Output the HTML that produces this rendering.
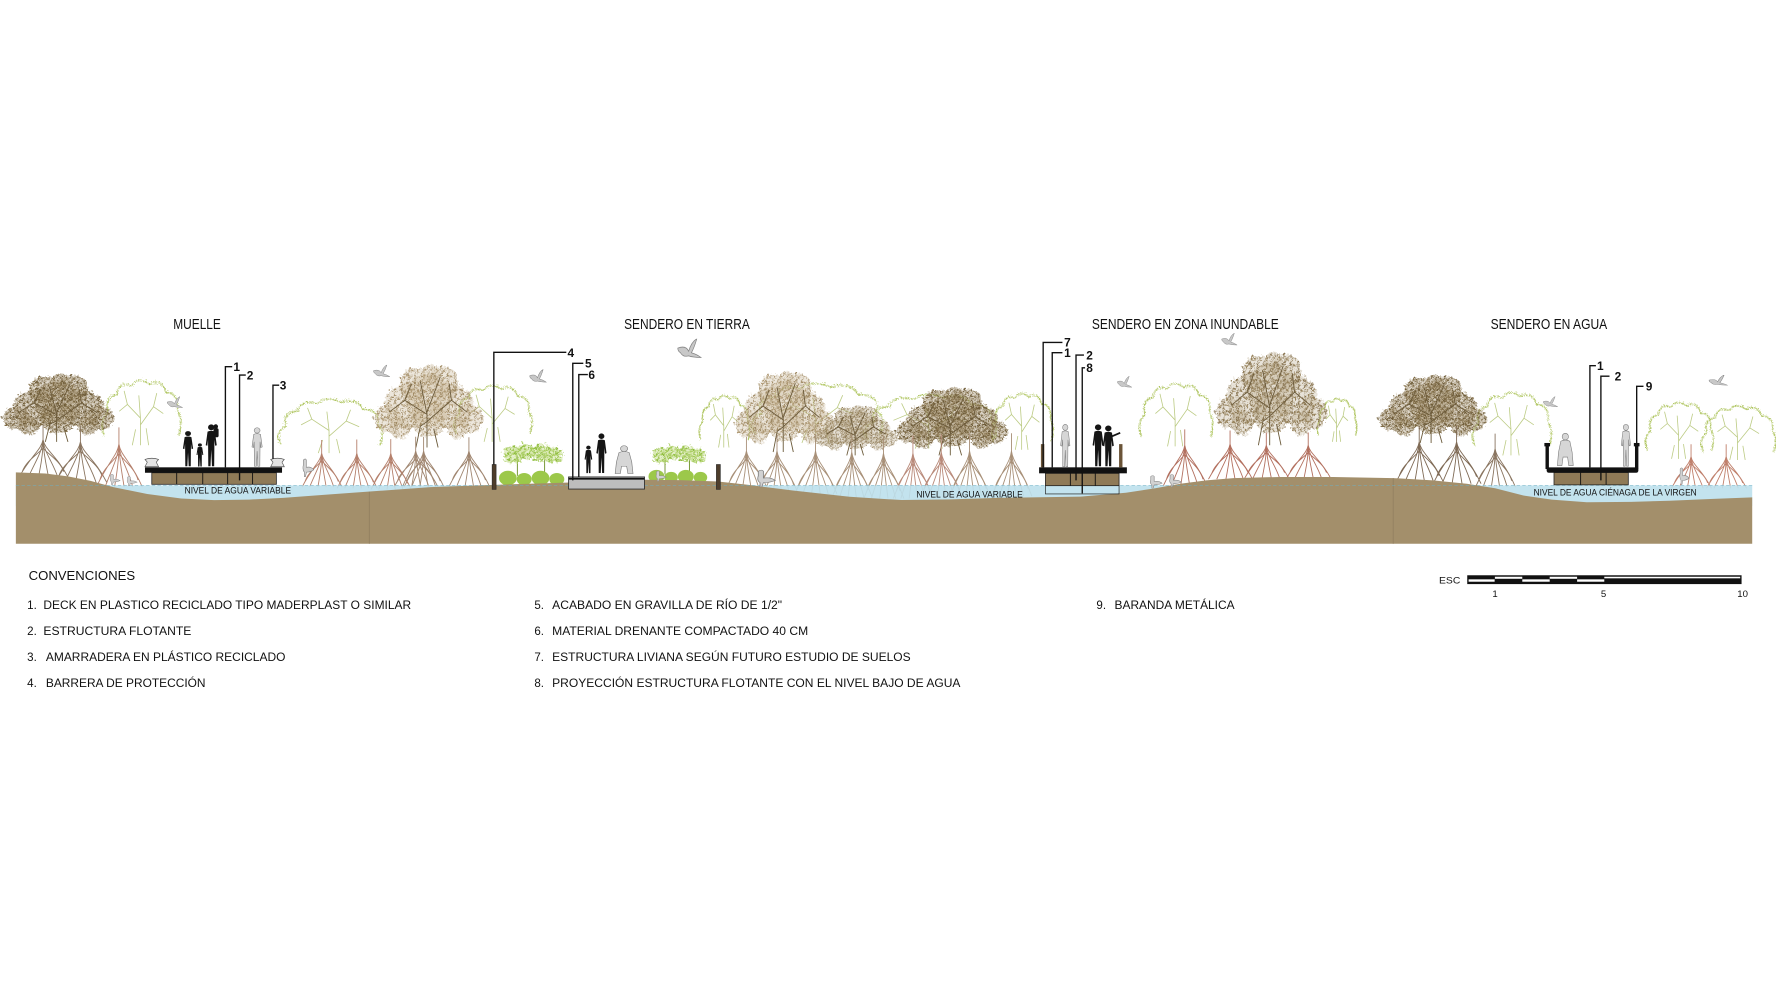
<!DOCTYPE html>
<html><head><meta charset="utf-8">
<style>
html,body{margin:0;padding:0;background:#fff;}
svg{display:block;}
text{font-family:"Liberation Sans",Arial,sans-serif;fill:#111;}
</style></head>
<body>
<svg width="1776" height="1006" viewBox="0 0 1568 888" xmlns="http://www.w3.org/2000/svg">
<defs>
<pattern id="pDark" patternUnits="userSpaceOnUse" width="6" height="6">
 <rect width="6" height="6" fill="#a08b66" opacity="0.35"/>
 <circle cx="1.2" cy="1.2" r="1.2" fill="#6e5b38"/>
 <circle cx="4.2" cy="2.8" r="1.3" fill="#7b6843"/>
 <circle cx="2" cy="4.8" r="1" fill="#85714b"/>
 <circle cx="5.2" cy="5.4" r="0.7" fill="#6e5b38"/>
</pattern>
<pattern id="pMid" patternUnits="userSpaceOnUse" width="6" height="6">
 <rect width="6" height="6" fill="#b3a282" opacity="0.3"/>
 <circle cx="1.2" cy="1.2" r="1.1" fill="#8a7652"/>
 <circle cx="4.2" cy="2.8" r="1.2" fill="#97835d"/>
 <circle cx="2" cy="4.8" r="0.9" fill="#8a7652"/>
</pattern>
<pattern id="pTan" patternUnits="userSpaceOnUse" width="6" height="6">
 <rect width="6" height="6" fill="#c8b898" opacity="0.35"/>
 <circle cx="1.2" cy="1.2" r="1.05" fill="#a08a64"/>
 <circle cx="4.2" cy="2.8" r="1.15" fill="#ad9772"/>
 <circle cx="2" cy="4.8" r="0.85" fill="#9c8660"/>
</pattern>
<pattern id="pGreen" patternUnits="userSpaceOnUse" width="5" height="5">
 <rect width="5" height="5" fill="#d4e6a6" opacity="0.6"/>
 <circle cx="1" cy="1" r="1.1" fill="#8fbd3e"/>
 <circle cx="3.6" cy="2.6" r="1.2" fill="#a6cc5a"/>
 <circle cx="1.8" cy="4.2" r="0.9" fill="#97c147"/>
</pattern>
<filter id="wig" x="-20%" y="-20%" width="140%" height="140%">
 <feTurbulence type="turbulence" baseFrequency="0.3" numOctaves="2" seed="7" result="n"/>
 <feDisplacementMap in="SourceGraphic" in2="n" scale="6" xChannelSelector="R" yChannelSelector="G"/>
</filter>
<filter id="wig2" x="-20%" y="-20%" width="140%" height="140%">
 <feTurbulence type="turbulence" baseFrequency="0.6" numOctaves="2" seed="3" result="n"/>
 <feDisplacementMap in="SourceGraphic" in2="n" scale="5" xChannelSelector="R" yChannelSelector="G"/>
</filter>

<symbol id="canB" viewBox="0 0 100 70" preserveAspectRatio="none" overflow="visible">
 <g filter="url(#wig)">
  <circle cx="50" cy="28" r="22"/><circle cx="29" cy="34" r="19"/><circle cx="71" cy="34" r="19"/>
  <circle cx="13" cy="44" r="12"/><circle cx="87" cy="44" r="12"/><circle cx="38" cy="15" r="14"/>
  <circle cx="63" cy="14" r="14"/><circle cx="52" cy="6" r="8"/><circle cx="50" cy="44" r="16"/>
  <circle cx="24" cy="52" r="9"/><circle cx="76" cy="52" r="9"/>
 </g>
 <path fill="none" stroke="#6b5a3a" stroke-width="0.9" vector-effect="non-scaling-stroke" d="M50,70 L50,42 L30,30 L16,40 M50,48 L72,30 L86,40 M50,42 L44,14 M50,40 L62,10 M30,30 L36,16 M72,30 L70,16 M40,70 L44,52 L50,48 M60,70 L56,54"/>
</symbol>

<symbol id="canG" viewBox="0 0 100 60" preserveAspectRatio="none" overflow="visible">
 <path filter="url(#wig2)" fill="none" stroke="#b0c662" stroke-width="1.2" vector-effect="non-scaling-stroke" d="M4,50 Q-2,36 9,30 Q4,16 20,14 Q22,2 38,6 Q48,-3 60,5 Q75,0 80,12 Q96,12 94,28 Q102,36 96,50"/>
 <path fill="none" stroke="#bccb84" stroke-width="0.8" vector-effect="non-scaling-stroke" d="M50,60 L50,36 L34,24 L24,30 M50,42 L66,26 L78,32 M50,36 L48,16 M34,24 L30,12 M66,26 L70,14 M40,60 L44,46 M60,60 L57,45"/>
</symbol>

<symbol id="rt" viewBox="0 0 60 36" preserveAspectRatio="none" overflow="visible">
 <path fill="none" vector-effect="non-scaling-stroke" stroke-width="0.9" d="M30,0 C28,10 18,14 4,36 M30,0 C29,12 22,20 14,36 M30,2 C30,16 27,26 25,36 M30,2 C31,16 34,26 36,36 M30,0 C31,12 40,20 46,36 M30,0 C32,10 44,14 57,36 M30,8 C24,14 12,20 8,30 M30,8 C36,14 48,20 52,30 M30,-14 L30,4"/>
</symbol>

<symbol id="shr" viewBox="0 0 50 40" preserveAspectRatio="none" overflow="visible">
 <path d="M14,32 L14,14 M34,32 L34,14" stroke="#7a9a3a" stroke-width="1" vector-effect="non-scaling-stroke"/>
 <g fill="url(#pGreen)" filter="url(#wig)">
  <circle cx="10" cy="12" r="8"/><circle cx="18" cy="9" r="7"/><circle cx="30" cy="10" r="8"/><circle cx="39" cy="12" r="7"/>
 </g>
 <g fill="#9cc84a">
  <circle cx="7" cy="34" r="6.5"/><circle cx="19" cy="35" r="5.5"/><circle cx="31" cy="34" r="6.5"/><circle cx="43" cy="35" r="5.5"/>
 </g>
</symbol>

<symbol id="pa" viewBox="0 0 12 38" preserveAspectRatio="none">
 <circle cx="6" cy="3.2" r="2.6"/>
 <path d="M3,7 Q6,5.5 9,7 L10.5,19 L9.2,19.5 L8.6,14 L8.4,37.5 L6.6,37.5 L6,23 L5.4,37.5 L3.6,37.5 L3.4,14 L2.8,19.5 L1.5,19 Z"/>
</symbol>
<symbol id="pc" viewBox="0 0 16 28" preserveAspectRatio="none">
 <circle cx="8" cy="3.2" r="2.8"/>
 <path d="M4,7 Q8,5 12,7 L14,16 L15,27 L11,27 L10,20 L6,20 L5,27 L1,27 L2,16 Z"/>
</symbol>
<symbol id="bird" viewBox="0 0 20 16" preserveAspectRatio="none">
 <path d="M2,6 Q8,4 10,8 Q12,2 16,0 Q14,6 12,9 Q16,10 19,12 Q13,12 10,11 Q6,12 4,9 Q2,8 2,6 Z"/>
</symbol>
<symbol id="sbird" viewBox="0 0 14 16" preserveAspectRatio="none">
 <path d="M3,2 Q5,0 6,2 L6,8 Q10,7 13,10 Q10,12 6,12 L5,16 L4,16 L4,12 Q2,10 3,6 Z"/>
</symbol>
</defs>

<!-- TITLES -->
<text x="153" y="290.5" font-size="13" textLength="42" lengthAdjust="spacingAndGlyphs">MUELLE</text>
<text x="551" y="290.5" font-size="13" textLength="111" lengthAdjust="spacingAndGlyphs">SENDERO EN TIERRA</text>
<text x="964" y="290.5" font-size="13" textLength="165" lengthAdjust="spacingAndGlyphs">SENDERO EN ZONA INUNDABLE</text>
<text x="1316" y="290.5" font-size="13" textLength="103" lengthAdjust="spacingAndGlyphs">SENDERO EN AGUA</text>

<!-- GREEN OUTLINE TREES (back) -->
<g stroke="#b0c662">
<use href="#canG" x="88" y="333" width="72" height="60"/>
<use href="#canG" x="243" y="350" width="95" height="50"/>
<use href="#canG" x="399" y="338" width="71" height="52"/>
<use href="#canG" x="616" y="347" width="46" height="48"/>
<use href="#canG" x="660" y="336" width="120" height="55"/>
<use href="#canG" x="760" y="346" width="120" height="50"/>
<use href="#canG" x="874" y="345" width="56" height="52"/>
<use href="#canG" x="1004" y="336" width="67" height="58"/>
<use href="#canG" x="1162" y="350" width="36" height="40"/>
<use href="#canG" x="1298" y="344" width="72" height="58"/>
<use href="#canG" x="1451" y="353" width="62" height="52"/>
<use href="#canG" x="1500" y="356" width="68" height="50"/>
</g>

<!-- BROWN CANOPIES -->
<use href="#canB" x="0" y="330" width="100" height="60" fill="url(#pDark)"/>
<use href="#canB" x="328" y="322" width="98" height="73" fill="url(#pTan)"/>
<use href="#canB" x="647" y="328" width="89" height="71" fill="url(#pTan)"/>
<use href="#canB" x="718" y="358" width="74" height="44" fill="url(#pMid)"/>
<use href="#canB" x="789" y="342" width="100" height="60" fill="url(#pDark)"/>
<use href="#canB" x="1071" y="311" width="100" height="82" fill="url(#pMid)"/>
<use href="#canB" x="1215" y="331" width="97" height="60" fill="url(#pDark)"/>

<!-- ROOTS -->
<g stroke="#8a7560">
<use href="#rt" x="13" y="388" width="50" height="34"/>
<use href="#rt" x="45" y="390" width="52" height="36"/>
<use href="#rt" x="345" y="398" width="44" height="32" stroke="#a08670"/>
<use href="#rt" x="354" y="398" width="40" height="32" stroke="#a08670"/>
<use href="#rt" x="394" y="398" width="40" height="31" stroke="#a08670"/>
<use href="#rt" x="1229" y="390" width="48" height="36" stroke="#7f6a55"/>
<use href="#rt" x="1262" y="390" width="48" height="37" stroke="#7f6a55"/>
<use href="#rt" x="1300" y="396" width="40" height="34"/>
</g>
<g stroke="#b5806c">
<use href="#rt" x="82" y="392" width="46" height="38"/>
<use href="#rt" x="264" y="400" width="40" height="30"/>
<use href="#rt" x="295" y="400" width="40" height="31"/>
<use href="#rt" x="325" y="400" width="40" height="32"/>
</g>
<g stroke="#a89078">
<use href="#rt" x="639" y="398" width="40" height="32"/>
<use href="#rt" x="666" y="398" width="40" height="36"/>
<use href="#rt" x="699" y="398" width="42" height="38"/>
<use href="#rt" x="732" y="399" width="40" height="40"/>
<use href="#rt" x="760" y="400" width="40" height="40"/>
<use href="#rt" x="786" y="400" width="40" height="40" stroke="#b98a7a"/>
<use href="#rt" x="810" y="399" width="42" height="40" stroke="#b98a7a"/>
<use href="#rt" x="836" y="398" width="40" height="40"/>
<use href="#rt" x="873" y="398" width="40" height="40"/>
</g>
<g stroke="#b3705f">
<use href="#rt" x="1024" y="393" width="44" height="36"/>
<use href="#rt" x="1064" y="392" width="44" height="31"/>
<use href="#rt" x="1096" y="393" width="44" height="29"/>
<use href="#rt" x="1133" y="393" width="44" height="29"/>
<use href="#rt" x="1473" y="403" width="40" height="28" stroke="#c0806c"/>
<use href="#rt" x="1504" y="403" width="40" height="28" stroke="#c0806c"/>
</g>

<!-- SHRUBS -->
<use href="#shr" x="440" y="388" width="60" height="40"/>
<use href="#shr" x="572" y="390" width="54" height="36"/>

<!-- WATER -->
<rect x="14" y="428.5" width="1533" height="18" fill="#bde0ec" opacity="0.9"/>

<!-- GROUND -->
<path fill="#a38f6b" d="M14,417 L40,418 L60,420.5 L80,424.5 L100,430 L130,436 L160,440 L189,441.5 L220,441 L250,439.5 L290,436.5 L325,434 L380,430 L436,428 L500,426 L540,424.5 L569,423.5 L600,423.8 L634,425 L661,428 L700,433 L750,438.5 L796,441.4 L840,440.8 L880,439.5 L954,438.4 L994,435 L1020,431 L1042,427 L1065,424 L1089,422 L1130,421 L1177,421 L1230,422 L1265,424 L1295,427 L1320,431 L1345,437.4 L1370,441 L1401,443.3 L1440,443 L1474,442 L1510,440.5 L1547,439 L1547,480 L14,480 Z"/>
<line x1="326" y1="434" x2="326" y2="480" stroke="#8e7b5c" stroke-width="0.6"/>
<line x1="1230" y1="422" x2="1230" y2="480" stroke="#8e7b5c" stroke-width="0.6"/>
<line x1="14" y1="428.5" x2="1547" y2="428.5" stroke="#6fb0c4" stroke-width="0.5" stroke-dasharray="3 2" opacity="0.8"/>

<!-- STANDING BIRDS -->
<g fill="#d2d2d2" stroke="#7d7d7d" stroke-width="0.5">
<use href="#sbird" x="95" y="418" width="12" height="10"/>
<use href="#sbird" x="110" y="420" width="12" height="9"/>
<use href="#sbird" x="265" y="404" width="13" height="17"/>
<use href="#sbird" x="577" y="415" width="12" height="10"/>
<use href="#sbird" x="665" y="414" width="21" height="16"/>
<use href="#sbird" x="1013" y="419" width="14" height="12"/>
<use href="#sbird" x="1030" y="418" width="14" height="12"/>
<use href="#sbird" x="1481" y="412" width="11" height="16"/>
</g>

<!-- FLYING BIRDS -->
<g fill="#c8c8c8" stroke="#858585" stroke-width="0.5">
<use href="#bird" x="146" y="350" width="16" height="13"/>
<use href="#bird" x="328" y="322" width="17" height="14"/>
<use href="#bird" x="466" y="326" width="17" height="15"/>
<use href="#bird" x="596" y="299" width="24" height="22"/>
<use href="#bird" x="985" y="332" width="15" height="13"/>
<use href="#bird" x="1077" y="294" width="16" height="14"/>
<use href="#bird" x="1361" y="350" width="15" height="12"/>
<use href="#bird" x="1507" y="331" width="19" height="12"/>
</g>

<!-- MUELLE -->
<rect x="134" y="417.3" width="110" height="10.2" fill="#8f7a57" stroke="#222" stroke-width="0.7"/>
<path d="M156,417 V427.5 M179,417 V427.5 M201,417 V427.5 M223,417 V427.5" stroke="#111" stroke-width="0.8"/>
<rect x="128" y="412.5" width="121" height="4.8" fill="#111"/>
<path d="M128,412 L130,408 L128,405.5 Q134,403.5 140,405.5 L138,408 L140,412 Z M239,412 L241,408 L239,405.5 Q245,403.5 251,405.5 L249,408 L251,412 Z" fill="#e4e4e4" stroke="#555" stroke-width="0.6"/>
<g fill="#151515">
<use href="#pa" x="160" y="380" width="12" height="32"/>
<use href="#pa" x="172.5" y="391" width="8" height="21"/>
<use href="#pa" x="180" y="374" width="13" height="38"/>
<circle cx="190.5" cy="376.5" r="2"/><rect x="188.5" y="378" width="4.5" height="8" rx="1.5"/>
</g>
<use href="#pa" x="221" y="377" width="12" height="35" fill="#d6d6d6" stroke="#7a7a7a" stroke-width="0.5"/>
<path d="M199,412.5 V323.7 H205 M211.5,424 V331 H217 M241,405 V340 H246.5" fill="none" stroke="#111" stroke-width="1.2"/>
<g font-size="10.5" font-weight="bold">
<text x="206" y="327.6">1</text><text x="217.8" y="335">2</text><text x="247" y="344">3</text>
</g>
<text x="163" y="435.5" font-size="8" textLength="94" lengthAdjust="spacingAndGlyphs">NIVEL DE AGUA VARIABLE</text>

<!-- SENDERO EN TIERRA -->
<rect x="434.5" y="410" width="3.5" height="22" fill="#4e3d2b" stroke="#222" stroke-width="0.5"/>
<rect x="632.5" y="410" width="3.5" height="22" fill="#4e3d2b" stroke="#222" stroke-width="0.5"/>
<rect x="502" y="421" width="67" height="10.7" fill="#bdbdbd" stroke="#333" stroke-width="0.8"/>
<line x1="502" y1="422.6" x2="569" y2="422.6" stroke="#111" stroke-width="1.5"/>
<g fill="#151515">
<use href="#pa" x="515" y="393" width="9" height="25"/>
<use href="#pa" x="525" y="382" width="12" height="36"/>
</g>
<use href="#pc" x="542" y="393" width="18" height="26" fill="#d6d6d6" stroke="#7a7a7a" stroke-width="0.5"/>
<path d="M436,410 V311 H500 M505.7,424 V320.7 H515 M511,421 V330.6 H519" fill="none" stroke="#111" stroke-width="1.2"/>
<g font-size="10.5" font-weight="bold">
<text x="501" y="315">4</text><text x="516.5" y="324.5">5</text><text x="519.5" y="334.5">6</text>
</g>
<text x="809" y="439" font-size="8" textLength="94" lengthAdjust="spacingAndGlyphs">NIVEL DE AGUA VARIABLE</text>

<!-- SENDERO EN ZONA INUNDABLE -->
<rect x="923" y="428.7" width="65" height="7.3" fill="none" stroke="#222" stroke-width="0.6"/>
<rect x="923" y="417.8" width="65" height="10.9" fill="#8f7a57" stroke="#222" stroke-width="0.7"/>
<path d="M945,417.8 V428.7 M967,417.8 V428.7" stroke="#111" stroke-width="0.8"/>
<rect x="917.4" y="412.5" width="77.5" height="5.3" fill="#111"/>
<rect x="919" y="392" width="3" height="20.5" fill="#6b5438"/>
<rect x="988" y="392" width="3" height="20.5" fill="#6b5438"/>
<use href="#pa" x="935" y="374" width="11" height="38.5" fill="#d6d6d6" stroke="#7a7a7a" stroke-width="0.5"/>
<g fill="#151515">
<use href="#pa" x="963" y="374" width="13" height="38"/>
<use href="#pa" x="972" y="375" width="13" height="37"/>
</g>
<line x1="982" y1="385" x2="989" y2="382" stroke="#151515" stroke-width="1.6"/>
<path d="M921,412.5 V302.2 H938 M929,412.5 V311.3 H938 M950,424 V313.4 H957 M955.5,435.5 V324.6 H958" fill="none" stroke="#111" stroke-width="1.2"/>
<g font-size="10.5" font-weight="bold">
<text x="939.5" y="306">7</text><text x="939.5" y="315">1</text><text x="959" y="317.5">2</text><text x="959" y="328.5">8</text>
</g>

<!-- SENDERO EN AGUA -->
<rect x="1372" y="417" width="65.6" height="11" fill="#8f7a57" stroke="#222" stroke-width="0.7"/>
<path d="M1395.5,417 V428 M1418,417 V428" stroke="#111" stroke-width="0.8"/>
<rect x="1365.5" y="412.5" width="81" height="4.8" rx="2" fill="#111"/>
<rect x="1364.5" y="392" width="3" height="22" fill="#111"/>
<rect x="1443.5" y="392" width="3" height="22" fill="#111"/>
<rect x="1363.5" y="391" width="5" height="3" fill="#111"/>
<rect x="1442.5" y="391" width="5" height="3" fill="#111"/>
<use href="#pc" x="1374" y="382" width="16" height="30" fill="#d6d6d6" stroke="#7a7a7a" stroke-width="0.5"/>
<use href="#pa" x="1430" y="374" width="11" height="38" fill="#d6d6d6" stroke="#7a7a7a" stroke-width="0.5"/>
<path d="M1403.7,412.5 V322.8 H1409 M1413.4,424 V332 H1421 M1445,392 V341 H1451" fill="none" stroke="#111" stroke-width="1.2"/>
<g font-size="10.5" font-weight="bold">
<text x="1410" y="326.5">1</text><text x="1425.5" y="335.8">2</text><text x="1453" y="344.8">9</text>
</g>
<text x="1354" y="437.6" font-size="8" textLength="144" lengthAdjust="spacingAndGlyphs">NIVEL DE AGUA CIÉNAGA DE LA VIRGEN</text>

<!-- LEGEND -->
<text x="25.3" y="512" font-size="11.3" textLength="94" lengthAdjust="spacingAndGlyphs">CONVENCIONES</text>
<g font-size="10.2">
<text x="24" y="537.5">1.</text>
<text x="38.3" y="537.5" textLength="324.7" lengthAdjust="spacingAndGlyphs">DECK EN PLASTICO RECICLADO TIPO MADERPLAST O SIMILAR</text>
<text x="24" y="560.5">2.</text>
<text x="38.3" y="560.5" textLength="130.7" lengthAdjust="spacingAndGlyphs">ESTRUCTURA FLOTANTE</text>
<text x="24" y="583.4">3.</text>
<text x="40.5" y="583.4" textLength="211.5" lengthAdjust="spacingAndGlyphs">AMARRADERA EN PLÁSTICO RECICLADO</text>
<text x="24" y="606.3">4.</text>
<text x="40.5" y="606.3" textLength="141" lengthAdjust="spacingAndGlyphs">BARRERA DE PROTECCIÓN</text>

<text x="471.8" y="537.5">5.</text>
<text x="487.5" y="537.5" textLength="203" lengthAdjust="spacingAndGlyphs">ACABADO EN GRAVILLA DE RÍO DE 1/2"</text>
<text x="471.8" y="560.5">6.</text>
<text x="487.5" y="560.5" textLength="226" lengthAdjust="spacingAndGlyphs">MATERIAL DRENANTE COMPACTADO 40 CM</text>
<text x="471.8" y="583.4">7.</text>
<text x="487.5" y="583.4" textLength="316.5" lengthAdjust="spacingAndGlyphs">ESTRUCTURA LIVIANA SEGÚN FUTURO ESTUDIO DE SUELOS</text>
<text x="471.8" y="606.3">8.</text>
<text x="487.5" y="606.3" textLength="360.5" lengthAdjust="spacingAndGlyphs">PROYECCIÓN ESTRUCTURA FLOTANTE CON EL NIVEL BAJO DE AGUA</text>

<text x="968" y="537.5">9.</text>
<text x="984" y="537.5" textLength="106" lengthAdjust="spacingAndGlyphs">BARANDA METÁLICA</text>
</g>

<!-- SCALE BAR -->
<text x="1270.5" y="515" font-size="8.5" textLength="18.8" lengthAdjust="spacingAndGlyphs">ESC</text>
<rect x="1295.4" y="507.8" width="242.2" height="7.8" fill="#111"/>
<g fill="#fff">
<rect x="1296.6" y="511.4" width="23" height="2.1"/>
<rect x="1319.8" y="509.1" width="24.2" height="1.8"/>
<rect x="1344" y="511.4" width="24.2" height="2.1"/>
<rect x="1368.2" y="509.1" width="24.2" height="1.8"/>
<rect x="1392.4" y="511.4" width="24" height="2.1"/>
<rect x="1416.4" y="509.1" width="120" height="1.4"/>
</g>
<g font-size="8.5" text-anchor="middle">
<text x="1320" y="527">1</text><text x="1415.8" y="527">5</text><text x="1538.5" y="527">10</text>
</g>
</svg>
</body></html>
